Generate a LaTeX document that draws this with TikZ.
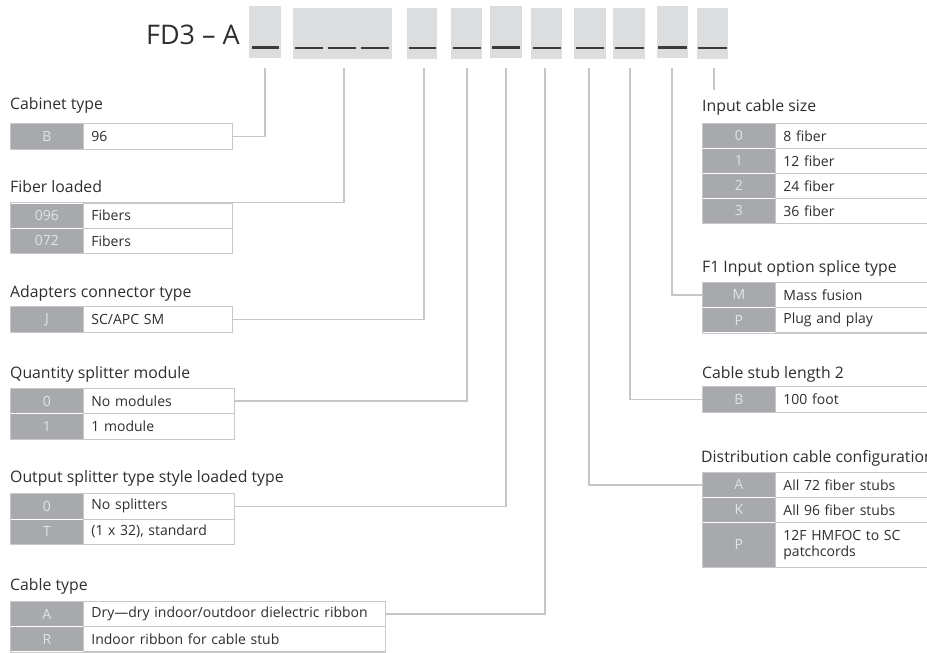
\documentclass[tikz,border=0pt]{standalone}
\usepackage{fontspec}
\setmainfont{Open Sans}
\definecolor{boxfill}{HTML}{DCDDDF}
\definecolor{keyfill}{HTML}{A7A9AC}
\definecolor{keytext}{HTML}{E2E3E4}
\definecolor{framegray}{HTML}{C8C8C8}
\definecolor{linegray}{HTML}{C6C6C6}
\definecolor{txt}{HTML}{2E2E2E}
\definecolor{barclr}{HTML}{3A3A3A}
\newcommand\tabfont{\fontsize{14}{16.5}\selectfont}
\newcommand\lblfont{\fontsize{15.8}{18}\selectfont}
\begin{document}
\begin{tikzpicture}[x=1pt,y=-1pt,
  topbox/.style={fill=boxfill, draw=none, inner sep=0pt, anchor=north west, minimum height=#1},
  topbox/.default=51.5pt,
  ubar/.style={draw=barclr, line width=2.2pt},
  lbl/.style={font=\lblfont, text=txt, anchor=base west, inner sep=0pt},
  keycell/.style={fill=keyfill, draw=white, line width=0.8pt, inner sep=0pt, anchor=north west,
     minimum width=73pt, minimum height=#1, text=keytext, font=\tabfont},
  keycell/.default=25pt,
  valcell/.style={fill=white, draw=framegray, line width=0.8pt, inner xsep=8pt, inner ysep=0pt,
     anchor=north west, minimum height=#1, align=left, text=txt, font=\tabfont},
  valcell/.default=25pt,
  tframe/.style={draw=framegray, line width=1pt},
  connector/.style={draw=linegray, line width=1.2pt}]
\useasboundingbox (0,0) rectangle (927,653);
\clip (0,0) rectangle (927,653);

% title
\node[font=\fontsize{27}{30}\selectfont, text=txt, anchor=base east, inner sep=0pt] (title) at (240,45) {FD3 – A};

% top boxes
\node[topbox=51.5pt, minimum width=32pt] (b1) at (249,6) {};
\node[topbox=51pt, minimum width=99pt] (b2) at (293,7.5) {};
\node[topbox=51pt, minimum width=30pt] (b3) at (407,7.5) {};
\node[topbox=51pt, minimum width=31.5pt] (b4) at (450.5,7.5) {};
\node[topbox=51.5pt, minimum width=32pt] (b5) at (490,6) {};
\node[topbox=51pt, minimum width=31.5pt] (b6) at (530.5,7.5) {};
\node[topbox=51pt, minimum width=31.5pt] (b7) at (574,7.5) {};
\node[topbox=51pt, minimum width=32pt] (b8) at (613,7.5) {};
\node[topbox=51.5pt, minimum width=31.5pt] (b9) at (656.5,6) {};
\node[topbox=51pt, minimum width=31.5pt] (b10) at (696.5,7.5) {};

% underscores
\draw[ubar] (251.7,47.5) -- (279.3,47.5);
\draw[ubar] (294.5,47.7) -- (322.7,47.7);
\draw[ubar] (327.7,47.7) -- (355.7,47.7);
\draw[ubar] (360.7,47.7) -- (388.7,47.7);
\draw[ubar] (408.5,47.7) -- (435.5,47.7);
\draw[ubar] (452.5,47.7) -- (480.5,47.7);
\draw[ubar] (491.7,47.5) -- (520,47.5);
\draw[ubar] (532.5,47.7) -- (560.5,47.7);
\draw[ubar] (575.5,47.7) -- (604,47.7);
\draw[ubar] (614.5,47.7) -- (643.5,47.7);
\draw[ubar] (658,47.5) -- (686.5,47.5);
\draw[ubar] (697.5,47.7) -- (726.5,47.7);

% connector start points
\coordinate (s1) at (265,68);
\coordinate (s2) at (344,68);
\coordinate (s3) at (424,68);
\coordinate (s4) at (467,68);
\coordinate (s5) at (506,68);
\coordinate (s6) at (545,68);
\coordinate (s7) at (589,68);
\coordinate (s8) at (630,68);
\coordinate (s9) at (672,68);
\coordinate (s10) at (714,68);
\coordinate (e10) at (714,90);

% labels
\node[lbl] (Lcab) at (10,109) {Cabinet type};
\node[lbl] (Lfib) at (10,192) {Fiber loaded};
\node[lbl] (Ladp) at (10,297) {Adapters connector type};
\node[lbl] (Lqty) at (10,378.5) {Quantity splitter module};
\node[lbl] (Lout) at (10,482) {Output splitter type style loaded type};
\node[lbl] (Lcbl) at (10,590) {Cable type};
\node[lbl] (Lin) at (702,111) {Input cable size};
\node[lbl] (Lf1) at (702,272) {F1 Input option splice type};
\node[lbl] (Lstub) at (702,378) {Cable stub length 2};
\node[lbl] (Ldist) at (701,462) {Distribution cable configuration};

% Cabinet type
\node[keycell=25.5pt] (cabK) at (10,123) {B};
\node[valcell=25.5pt, text width=133pt] (cabV) at (83,123) {96};
\draw[tframe] (cabK.north west) rectangle (cabV.south east);

% Fiber loaded
\node[keycell=25.3pt] (fibK1) at (10,202.5) {096};
\node[keycell=25.3pt] (fibK2) at (10,227.8) {072};
\node[valcell=25.3pt, text width=133pt] (fibV1) at (83,202.5) {Fibers};
\node[valcell=25.3pt, text width=133pt] (fibV2) at (83,227.8) {Fibers};
\draw[tframe] (fibK1.north west) rectangle (fibV2.south east);

% Adapters connector type
\node[keycell=26pt] (adpK) at (10,306) {J};
\node[valcell=26pt, text width=133pt] (adpV) at (83,306) {SC/APC SM};
\draw[tframe] (adpK.north west) rectangle (adpV.south east);

% Quantity splitter module
\node[keycell=25.3pt] (qtyK1) at (10,388) {0};
\node[keycell=25.3pt] (qtyK2) at (10,413.3) {1};
\node[valcell=25.3pt, text width=134.5pt] (qtyV1) at (83,388) {No modules};
\node[valcell=25.3pt, text width=134.5pt] (qtyV2) at (83,413.3) {1 module};
\draw[tframe] (qtyK1.north west) rectangle (qtyV2.south east);

% Output splitter
\node[keycell=25.5pt] (outK1) at (10,493) {0};
\node[keycell=25.5pt] (outK2) at (10,518.5) {T};
\node[valcell=25.5pt, text width=135pt] (outV1) at (83,493) {No splitters};
\node[valcell=25.5pt, text width=135pt] (outV2) at (83,518.5) {(1 x 32), standard};
\draw[tframe] (outK1.north west) rectangle (outV2.south east);

% Cable type
\node[keycell=25.2pt] (cblK1) at (10,601) {A};
\node[keycell=25.2pt] (cblK2) at (10,626.2) {R};
\node[valcell=25.2pt, text width=286pt] (cblV1) at (83,601) {Dry—dry indoor/outdoor dielectric ribbon};
\node[valcell=25.2pt, text width=286pt] (cblV2) at (83,626.2) {Indoor ribbon for cable stub};
\draw[tframe] (cblK1.north west) rectangle (cblV2.south east);

% Input cable size
\node[keycell=25pt] (inK1) at (702,123) {0};
\node[keycell=25pt] (inK2) at (702,148) {1};
\node[keycell=25pt] (inK3) at (702,173) {2};
\node[keycell=25pt] (inK4) at (702,198) {3};
\node[valcell=25pt, text width=160pt] (inV1) at (775,123) {8 fiber};
\node[valcell=25pt, text width=160pt] (inV2) at (775,148) {12 fiber};
\node[valcell=25pt, text width=160pt] (inV3) at (775,173) {24 fiber};
\node[valcell=25pt, text width=160pt] (inV4) at (775,198) {36 fiber};
\draw[tframe] (inK1.north west) rectangle (inV4.south east);

% F1 input option
\node[keycell=25.2pt] (f1K) at (702,282) {M};
\node[keycell=25.2pt] (f1K2) at (702,307.2) {P};
\node[valcell=25.2pt, text width=160pt] (f1V1) at (775,282) {Mass fusion};
\node[valcell=25.2pt, text width=160pt] (f1V2) at (775,307.2) {Plug and play};
\draw[tframe] (f1K.north west) rectangle (f1V2.south east);

% Cable stub length
\node[keycell=25.7pt] (stubK) at (702,386) {B};
\node[valcell=25.7pt, text width=160pt] (stubV) at (775,386) {100 foot};
\draw[tframe] (stubK.north west) rectangle (stubV.south east);

% Distribution cable configuration
\node[keycell=25pt] (distK1) at (702,472) {A};
\node[keycell=25pt] (distK2) at (702,497) {K};
\node[keycell=45pt] (distK3) at (702,522) {P};
\node[valcell=25pt, text width=160pt] (distV1) at (775,472) {All 72 fiber stubs};
\node[valcell=25pt, text width=160pt] (distV2) at (775,497) {All 96 fiber stubs};
\node[valcell=45pt, text width=160pt] (distV3) at (775,522) {12F HMFOC to SC\\patchcords};
\draw[tframe] (distK1.north west) rectangle (distV3.south east);

% connectors
\draw[connector] (s1) |- (cabV.east);
\draw[connector] (s2) |- (fibV1.north east);
\draw[connector] (s3) |- (adpV.east);
\draw[connector] (s4) |- (qtyV1.east);
\draw[connector] (s5) |- (outV1.east);
\draw[connector] (s6) |- (cblV1.east);
\draw[connector] (s7) |- (distK1.west);
\draw[connector] (s8) |- (stubK.west);
\draw[connector] (s9) |- (f1K.west);
\draw[connector] (s10) -- (e10);
\end{tikzpicture}
\end{document}
